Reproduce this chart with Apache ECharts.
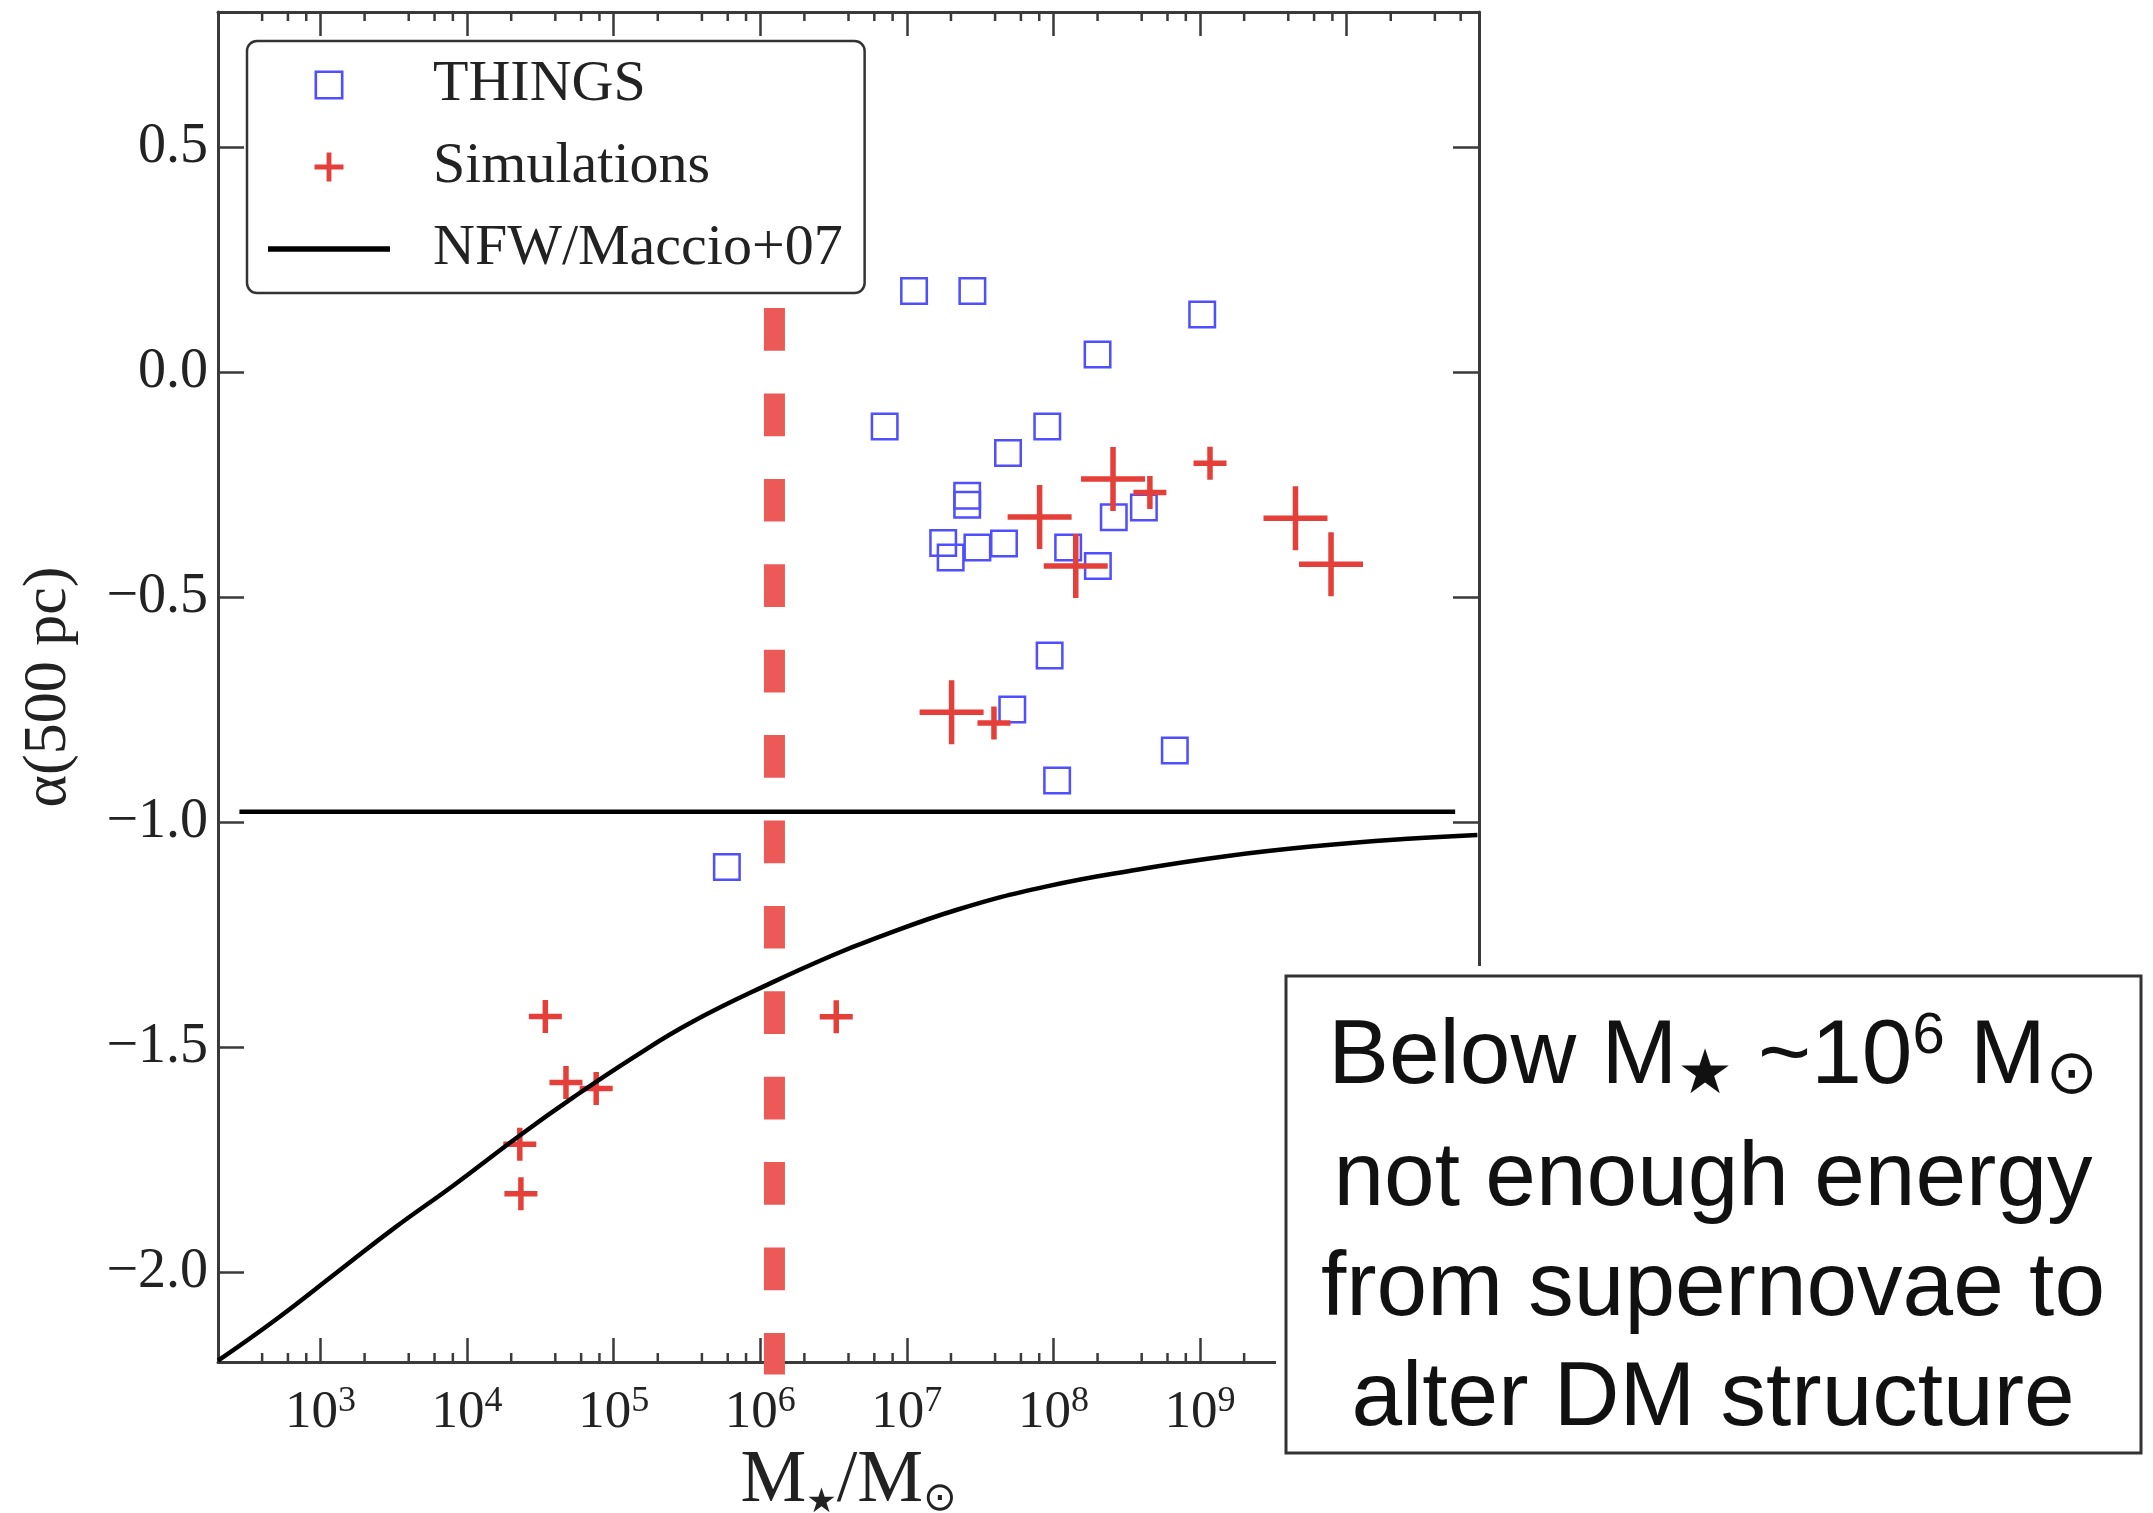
<!DOCTYPE html>
<html><head><meta charset="utf-8">
<script src="https://cdn.jsdelivr.net/npm/echarts@6/dist/echarts.min.js"></script>
<style>html,body{margin:0;padding:0;background:#fff}#chart{width:2153px;height:1513px}</style>
</head><body><div id="chart"></div>
<script>
// ---------- data ----------
const thingsMass  = [1.12e7, 2.80e7, 7.06e6, 4.90e7, 2.58e7, 2.58e7, 1.77e7, 1.99e7, 3.03e7, 4.60e7, 9.08e7, 2.0e8, 1.035e9, 2.58e8, 4.14e8, 1.26e8, 2.01e8, 9.42e7, 5.24e7, 5.92e5, 1.06e8, 6.73e8];
const thingsAlpha = [0.180, 0.180, -0.121, -0.180, -0.275, -0.295, -0.380, -0.412, -0.390, -0.381, -0.121, 0.039, 0.128, -0.323, -0.301, -0.390, -0.431, -0.630, -0.750, -1.100, -0.908, -0.841];

const simLargeMass  = [2.55e8, 8.05e7, 1.42e8, 4.48e9, 7.83e9, 2.02e7];
const simLargeAlpha = [-0.238, -0.322, -0.431, -0.325, -0.427, -0.756];

const simSmallMass  = [4.55e8, 1.17e9, 3.93e7, 3.42e4, 4.73e4, 7.60e4, 2.29e4, 2.33e4, 3.30e6];
const simSmallAlpha = [-0.268, -0.203, -0.780, -1.432, -1.579, -1.592, -1.716, -1.826, -1.433];

const nfwMass  = [2.0e2, 5.0e2, 1.26e3, 3.2e3, 8.2e3, 2.3e4, 5.3e4, 1.35e5, 3.4e5, 1.2e6, 3.4e6, 5.5e6, 2.2e7, 9.0e7, 3.7e8, 1.5e9, 6.0e9, 2.45e10, 7.8e10];
const nfwAlpha = [-2.197, -2.105, -2.004, -1.902, -1.806, -1.696, -1.612, -1.524, -1.445, -1.357, -1.291, -1.264, -1.195, -1.143, -1.106, -1.076, -1.054, -1.038, -1.029];

const refLineMass  = [2.8e2, 5.5e10];
const refLineAlpha = [-0.977, -0.977];

const thresholdMass  = [1.25e6, 1.25e6];
const thresholdAlpha = [0.142, -2.228];

const xTickExponents = [3, 4, 5, 6, 7, 8, 9, 10];
const yTickValues = [0.5, 0.0, -0.5, -1.0, -1.5, -2.0];
const minorMultipliers = [2, 4, 6, 8];

const xMin = 200, xMax = 8e10, yMin = -2.2, yMax = 0.8;

const annotationLines = ['not enough energy', 'from supernovae to', 'alter DM structure'];

// ---------- helpers ----------
const zip = (a, b) => a.map((v, i) => [v, b[i]]);
const minorTicks = [];
for (let e = 2; e <= 10; e++) for (const m of minorMultipliers) {
  const v = m * Math.pow(10, e);
  if (v > xMin * 1.0001 && v < xMax) minorTicks.push(v);
}
const squarePath = 'path://M0 0H100V100H0ZM9 9V91H91V9Z';
const bigPlusPath = 'path://M45.7 0H54.3V45.7H100V54.3H54.3V100H45.7V54.3H0V45.7H45.7Z';
const smallPlusPath = 'path://M41.7 0H58.3V41.7H100V58.3H58.3V100H41.7V58.3H0V41.7H41.7Z';
const linePath = 'path://M0 0H122V5.5H0Z';

const axisColor = '#3a3a3a';
const serif = 'Liberation Serif';
const blue = '#4f4fff', red = '#e53f3a', dashRed = '#eb5a57';

function xLabel(v) {
  const e = Math.log10(v), r = Math.round(e);
  if (Math.abs(e - r) < 1e-6 && xTickExponents.includes(r)) return '{b|10}{s|' + r + '}';
  return '';
}
function yLabel(v) {
  if (!yTickValues.some(t => Math.abs(t - v) < 1e-6)) return '';
  return (v < -1e-9 ? '\u2212' : '') + Math.abs(v).toFixed(1);
}

const chart = echarts.init(document.getElementById('chart'), null, {renderer: 'canvas'});
const xAxisBase = {
  type: 'log', logBase: 10, min: xMin, max: xMax,
  axisLine: {show: true, onZero: false, lineStyle: {color: axisColor, width: 3}},
  axisTick: {show: true, inside: true, length: 24, lineStyle: {color: axisColor, width: 2.5}},
  splitLine: {show: false}, minorTick: {show: false}, minorSplitLine: {show: false}
};
const yAxisBase = {
  type: 'value', min: yMin, max: yMax, splitNumber: 6,
  axisLine: {show: true, onZero: false, lineStyle: {color: axisColor, width: 3}},
  axisTick: {show: true, inside: true, length: 26, lineStyle: {color: axisColor, width: 2.5}},
  splitLine: {show: false}
};

const option = {
  animation: false,
  backgroundColor: '#fff',
  textStyle: {fontFamily: serif},
  grid: {left: 218, right: 674, top: 12, bottom: 151, containLabel: false, outerBoundsMode: 'none'},
  legend: {
    show: true, orient: 'vertical', left: 247, top: 41,
    padding: [14, 22, 14, 21], itemGap: 22, itemWidth: 122, itemHeight: 29,
    selectedMode: false, backgroundColor: '#fff', borderColor: '#333', borderWidth: 2.5, borderRadius: 10,
    textStyle: {fontFamily: serif, fontSize: 58, color: '#222', lineHeight: 60, padding: [0, 0, 0, 38]},
    data: [{name: 'THINGS', icon: squarePath}, {name: 'Simulations', icon: smallPlusPath}, {name: 'NFW/Maccio+07', icon: linePath}]
  },
  xAxis: [
    Object.assign({}, xAxisBase, {
      position: 'bottom',
      axisLabel: {
        show: true, margin: 22, formatter: xLabel, showMinLabel: false, showMaxLabel: false,
        rich: {
          b: {fontFamily: serif, fontSize: 53, color: '#222', lineHeight: 56, verticalAlign: 'bottom'},
          s: {fontFamily: serif, fontSize: 36, color: '#222', lineHeight: 38, verticalAlign: 'top'}
        }
      },
      name: '{m|M}{sub|\u2605}{m|/M}{sun|\u2299}', nameLocation: 'middle', nameGap: 72,
      nameTextStyle: {
        rich: {
          m: {fontFamily: serif, fontSize: 74, color: '#222', lineHeight: 76},
          sub: {fontFamily: 'DejaVu Sans', fontSize: 34, color: '#222', lineHeight: 24, verticalAlign: 'bottom'},
          sun: {fontFamily: 'DejaVu Sans', fontSize: 40, color: '#222', lineHeight: 30, verticalAlign: 'bottom'}
        }
      }
    }),
    Object.assign({}, xAxisBase, {position: 'top', axisLabel: {show: false}})
  ],
  yAxis: [
    Object.assign({}, yAxisBase, {
      position: 'left',
      axisLabel: {show: true, margin: 10, formatter: yLabel, fontFamily: serif, fontSize: 56, color: '#222'},
      name: '\u03b1(500 pc)', nameLocation: 'middle', nameRotate: 90, nameGap: 138,
      nameTextStyle: {fontFamily: serif, fontSize: 62, color: '#222'}
    }),
    Object.assign({}, yAxisBase, {position: 'right', axisLabel: {show: false}})
  ],
  series: [
    {
      name: 'minorTicks', type: 'custom', xAxisIndex: 0, yAxisIndex: 0, silent: true, clip: false,
      data: minorTicks.map(v => [v, yMin]), encode: {x: 0, y: 1},
      renderItem: (params, api) => {
        const v = api.value(0);
        const b = api.coord([v, yMin]), t = api.coord([v, yMax]);
        const st = {stroke: axisColor, lineWidth: 2.5};
        return {type: 'group', children: [
          {type: 'line', shape: {x1: b[0], y1: b[1], x2: b[0], y2: b[1] - 9}, style: st},
          {type: 'line', shape: {x1: t[0], y1: t[1], x2: t[0], y2: t[1] + 9}, style: st}
        ]};
      }
    },
    {
      name: 'threshold', type: 'line', data: zip(thresholdMass, thresholdAlpha), symbol: 'none', silent: true, clip: false,
      lineStyle: {color: dashRed, width: 21, type: [42.7, 42.7], cap: 'butt'}, z: 1
    },
    {
      name: 'reference', type: 'line', data: zip(refLineMass, refLineAlpha), symbol: 'none', silent: true,
      lineStyle: {color: '#000', width: 4.5}
    },
    {
      name: 'NFW/Maccio+07', type: 'line', data: zip(nfwMass, nfwAlpha), symbol: 'none', smooth: 0.45, silent: true, clip: false,
      lineStyle: {color: '#000', width: 4.5}, itemStyle: {color: '#000'}
    },
    {
      name: 'THINGS', type: 'scatter', data: zip(thingsMass, thingsAlpha), symbol: squarePath, symbolSize: 28,
      itemStyle: {color: blue, opacity: 1}, silent: true
    },
    {
      name: 'Simulations', type: 'scatter', data: zip(simLargeMass, simLargeAlpha), symbol: bigPlusPath, symbolSize: 64,
      itemStyle: {color: red, opacity: 1}, silent: true
    },
    {
      name: 'Simulations', type: 'scatter', data: zip(simSmallMass, simSmallAlpha), symbol: smallPlusPath, symbolSize: 33,
      itemStyle: {color: red, opacity: 1}, silent: true
    }
  ],
  graphic: [
    {type: 'rect', z: 100, shape: {x: 1276, y: 966, width: 877, height: 497}, style: {fill: '#fff'}},
    {type: 'rect', z: 101, shape: {x: 1286, y: 976, width: 855, height: 477}, style: {fill: '#fff', stroke: '#333', lineWidth: 3}},
    {type: 'text', z: 102, x: 1713, y: 1058, style: {
      text: '{n|Below M}{star|\u2605}{n| ~10}{sup|6}{n| M}{sun|\u2299}',
      textAlign: 'center', textVerticalAlign: 'middle',
      rich: {
        n: {fontFamily: 'Liberation Sans', fontSize: 91, fill: '#111', lineHeight: 100},
        star: {fontFamily: 'DejaVu Sans', fontSize: 62, fill: '#111', lineHeight: 84, verticalAlign: 'bottom'},
        sup: {fontFamily: 'Liberation Sans', fontSize: 58, fill: '#111', lineHeight: 62, verticalAlign: 'top'},
        sun: {fontFamily: 'DejaVu Sans', fontSize: 62, fill: '#111', lineHeight: 76, verticalAlign: 'bottom'}
      }
    }},
    {type: 'text', z: 102, x: 1713, y: 1180, style: {text: annotationLines[0], textAlign: 'center', textVerticalAlign: 'middle', font: '91px "Liberation Sans"', fill: '#111'}},
    {type: 'text', z: 102, x: 1713, y: 1290, style: {text: annotationLines[1], textAlign: 'center', textVerticalAlign: 'middle', font: '91px "Liberation Sans"', fill: '#111'}},
    {type: 'text', z: 102, x: 1713, y: 1400, style: {text: annotationLines[2], textAlign: 'center', textVerticalAlign: 'middle', font: '91px "Liberation Sans"', fill: '#111'}}
  ]
};
chart.setOption(option);
</script>
</body></html>
